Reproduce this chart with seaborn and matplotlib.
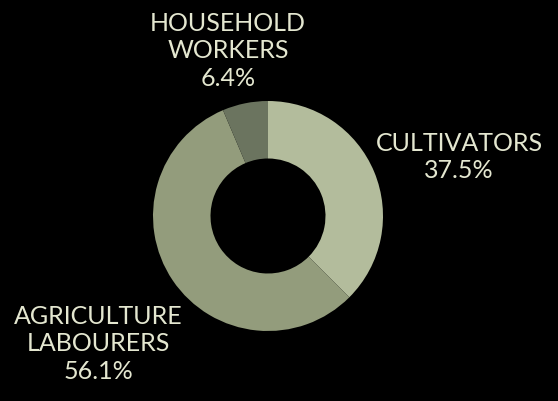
import matplotlib
matplotlib.use("Agg")
import matplotlib.pyplot as plt
import seaborn as sns

categories = ["CULTIVATORS", "AGRICULTURE\nLABOURERS", "HOUSEHOLD\nWORKERS"]
shares = [37.5, 56.1, 6.4]
slice_colors = ["#b3bc9c", "#939c7c", "#6b745f"]

# label block centres, in pixels from the top-left of the picture
label_px = [(459, 157), (98, 344), (228, 51)]

W, H = 558, 402
cx, cy, r = 268, 217, 115

sns.set_theme(style="dark")
plt.rcParams["font.family"] = ["Lato", "DejaVu Sans"]

fig = plt.figure(figsize=(W / 100, H / 100), dpi=100, facecolor="black")
ax = fig.add_axes([0, 0, 1, 1])
ax.set_facecolor("black")

ax.pie(shares, colors=slice_colors, startangle=90, counterclock=False,
       radius=1, wedgeprops=dict(width=0.5, linewidth=0))

# data limits so that 1 unit = r pixels, centre at (cx, cy)
ax.set_xlim(-cx / r, (W - cx) / r)
ax.set_ylim((cy - H) / r, cy / r)
ax.set_aspect("auto")
ax.axis("off")

for name, val, (px, py) in zip(categories, shares, label_px):
    fig.text(px / W, 1 - py / H, f"{name}\n{val}%", ha="center", va="center",
             multialignment="center", color="#e4e7d0", fontsize=18,
             linespacing=1.22)

fig.savefig("out.png", dpi=100, facecolor="black")
